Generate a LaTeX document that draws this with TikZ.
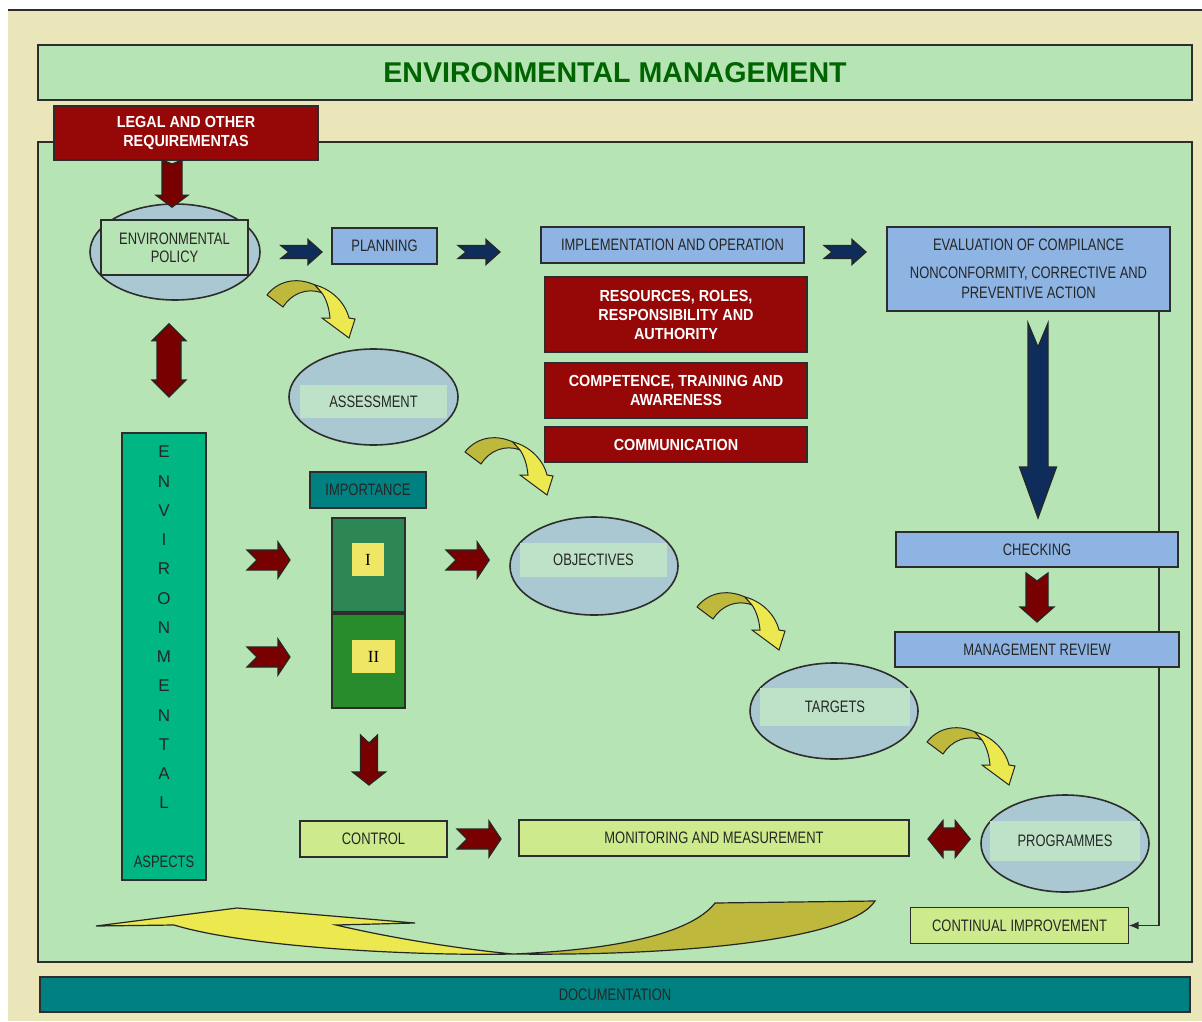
\documentclass[tikz,border=0pt]{standalone}
\usepackage{fontspec}
\setmainfont{Liberation Sans}
\newfontfamily\lblf{Liberation Sans}[FakeStretch=0.78]
\newfontfamily\wbf{Liberation Sans}[FakeStretch=0.9]
\newfontfamily\serf{Liberation Serif}
\usetikzlibrary{shapes.geometric,calc,arrows.meta}

\definecolor{beige}{RGB}{234,230,186}
\definecolor{lgreen}{RGB}{182,228,180}
\definecolor{bline}{RGB}{45,45,45}
\definecolor{dred}{RGB}{150,8,8}
\definecolor{redA}{RGB}{120,0,0}
\definecolor{navy}{RGB}{15,45,90}
\definecolor{lblue}{RGB}{141,180,226}
\definecolor{ellf}{RGB}{170,200,210}
\definecolor{bandc}{RGB}{190,226,200}
\definecolor{aspc}{RGB}{0,182,130}
\definecolor{tealc}{RGB}{0,128,128}
\definecolor{grI}{RGB}{45,135,85}
\definecolor{grII}{RGB}{40,140,45}
\definecolor{yelsq}{RGB}{238,230,100}
\definecolor{limec}{RGB}{205,235,140}
\definecolor{yel}{RGB}{235,232,80}
\definecolor{olv}{RGB}{190,185,60}
\definecolor{tgreen}{RGB}{0,100,0}

% fat arrows: #1 fill, #2 start, #3 end, #4 half shaft, #5 half head, #6 head length, #7 notch (px)
\newcommand\fatR[7]{%
  \path[fatline,fill=#1] let \p1=#2, \p2=#3 in
   (\x1,\y1+#4*0.5pt) -- (\x2-#6*0.5pt,\y1+#4*0.5pt) -- (\x2-#6*0.5pt,\y1+#5*0.5pt) -- (\x2,\y1)
   -- (\x2-#6*0.5pt,\y1-#5*0.5pt) -- (\x2-#6*0.5pt,\y1-#4*0.5pt) -- (\x1,\y1-#4*0.5pt)
   -- (\x1+#7*0.5pt,\y1) -- cycle;}
\newcommand\fatD[7]{%
  \path[fatline,fill=#1] let \p1=#2, \p2=#3 in
   (\x1-#4*0.5pt,\y1) -- (\x1-#4*0.5pt,\y2+#6*0.5pt) -- (\x1-#5*0.5pt,\y2+#6*0.5pt) -- (\x1,\y2)
   -- (\x1+#5*0.5pt,\y2+#6*0.5pt) -- (\x1+#4*0.5pt,\y2+#6*0.5pt) -- (\x1+#4*0.5pt,\y1)
   -- (\x1,\y1-#7*0.5pt) -- cycle;}
\newcommand\dblV[6]{%
  \path[fatline,fill=#1] let \p1=#2, \p2=#3 in
   (\x1,\y1) -- (\x1+#5*0.5pt,\y1-#6*0.5pt) -- (\x1+#4*0.5pt,\y1-#6*0.5pt) -- (\x1+#4*0.5pt,\y2+#6*0.5pt)
   -- (\x1+#5*0.5pt,\y2+#6*0.5pt) -- (\x1,\y2) -- (\x1-#5*0.5pt,\y2+#6*0.5pt) -- (\x1-#4*0.5pt,\y2+#6*0.5pt)
   -- (\x1-#4*0.5pt,\y1-#6*0.5pt) -- (\x1-#5*0.5pt,\y1-#6*0.5pt) -- cycle;}
\newcommand\dblH[6]{%
  \path[fatline,fill=#1] let \p1=#2, \p2=#3 in
   (\x1,\y1) -- (\x1+#6*0.5pt,\y1+#5*0.5pt) -- (\x1+#6*0.5pt,\y1+#4*0.5pt) -- (\x2-#6*0.5pt,\y1+#4*0.5pt)
   -- (\x2-#6*0.5pt,\y1+#5*0.5pt) -- (\x2,\y1) -- (\x2-#6*0.5pt,\y1-#5*0.5pt) -- (\x2-#6*0.5pt,\y1-#4*0.5pt)
   -- (\x1+#6*0.5pt,\y1-#4*0.5pt) -- (\x1+#6*0.5pt,\y1-#5*0.5pt) -- cycle;}

\tikzset{
  fatline/.style={draw=black!85, line width=0.6pt},
  sz/.style 2 args={minimum width=#1*0.5pt, minimum height=#2*0.5pt},
  box/.style={rectangle, draw=bline, line width=0.8pt, inner sep=0pt, outer sep=0pt, align=center},
  lbl/.style={font=\lblf\fontsize{8.3}{9}\selectfont, text=black!85},
  wlbl/.style={font=\wbf\bfseries\fontsize{8}{9.5}\selectfont, text=white},
  ell/.style={ellipse, draw=bline, line width=0.8pt, fill=ellf, inner sep=0pt},
  band/.style={rectangle, fill=bandc, inner sep=0pt},
  sqbox/.style={rectangle, fill=yelsq, inner sep=0pt, font=\serf\fontsize{8.5}{9}\selectfont},
  lettr/.style={font=\fontsize{8.5}{9}\selectfont, text=black!85, inner sep=0pt},
  curvearr/.pic={
    \path[draw=black!85, line width=0.5pt, fill=olv]
      (2,17) .. controls (12,4) and (30,-2) .. (50,7) -- (57,15)
      .. controls (42,9) and (26,16) .. (18,29) -- cycle;
    \path[draw=black!85, line width=0.5pt, fill=yel]
      (50,7) .. controls (66,11) and (80,24) .. (84,40) -- (90,41) -- (84,60) -- (57,40) -- (65,40)
      .. controls (64,29) and (61,21) .. (57,15) -- cycle;
  }
}

\begin{document}
\begin{tikzpicture}[x=0.5pt,y=-0.5pt]
\useasboundingbox (0,0) rectangle (1202,1021);
\fill[white] (0,0) rectangle (1202,1021);
\fill[beige] (8,10) rectangle (1202,1021);
\draw[bline, line width=1pt] (8,10) -- (1202,10);

% frames
\node[box, sz={1154}{55}, fill=lgreen, text=tgreen, font=\bfseries\fontsize{14.3}{16}\selectfont] (title) at (615,72.5) {ENVIRONMENTAL MANAGEMENT};
\node[box, sz={1154}{820}, fill=lgreen] (main) at (615,552) {};
\node[box, sz={264}{54}, fill=dred, wlbl] (legal) at (186,133) {LEGAL AND OTHER\\REQUIREMENTAS};

% policy
\node[ell, sz={170}{96}] (policyE) at (175,252) {};
\node[box, sz={147}{55}, fill=lgreen, lbl] (policy) at (174.5,247.5) {ENVIRONMENTAL\\POLICY};

% top row
\node[box, sz={105}{36}, fill=lblue, lbl] (planning) at (384.5,246) {PLANNING};
\node[box, sz={263}{36}, fill=lblue, lbl] (impl) at (672.5,245) {IMPLEMENTATION AND OPERATION};
\node[box, sz={283}{84}, fill=lblue, lbl, font=\lblf\fontsize{8.3}{10}\selectfont] (eval) at (1028.5,269) {EVALUATION OF COMPILANCE\\[4pt]NONCONFORMITY, CORRECTIVE AND\\PREVENTIVE ACTION};

\node[box, sz={262}{75}, fill=dred, wlbl] (res) at (676,314.5) {RESOURCES, ROLES,\\RESPONSIBILITY AND\\AUTHORITY};
\node[box, sz={262}{55}, fill=dred, wlbl] (comp) at (676,390.5) {COMPETENCE, TRAINING AND\\AWARENESS};
\node[box, sz={262}{35}, fill=dred, wlbl] (comm) at (676,444.5) {COMMUNICATION};

% assessment
\node[ell, sz={169}{96}] (assessE) at (373.5,397) {};
\node[band, sz={147}{33}, lbl] (assess) at (373.5,401.5) {ASSESSMENT};

% aspects
\node[box, sz={84}{447}, fill=aspc] (aspects) at (164,656.5) {};
\foreach \l [count=\i from 0] in {E,N,V,I,R,O,N,M,E,N,T,A,L}
  \node[lettr] (L\i) at (164,452+29.25*\i) {\l};
\node[lbl, inner sep=0pt] (asptxt) at (164,862) {ASPECTS};

% importance
\node[box, sz={116}{36}, fill=tealc, lbl] (importance) at (368,490) {IMPORTANCE};
\node[box, sz={73}{94}, fill=grI] (boxI) at (368.5,565) {};
\node[box, sz={73}{94}, fill=grII] (boxII) at (368.5,661) {};
\node[sqbox, sz={32}{33}] (sqI) at (368,559.5) {I};
\node[sqbox, sz={43}{33}] (sqII) at (373.5,656.5) {II};

% objectives, targets, programmes
\node[ell, sz={168}{98}] (objE) at (594,566) {};
\node[band, sz={147}{34}, lbl] (obj) at (593.5,560) {OBJECTIVES};
\node[ell, sz={168}{96}] (targE) at (834,711) {};
\node[band, sz={150}{38}, lbl] (targ) at (835,707) {TARGETS};
\node[ell, sz={168}{97}] (progE) at (1065,843.5) {};
\node[band, sz={150}{40}, lbl] (prog) at (1065,841) {PROGRAMMES};

% bottom row
\node[box, sz={147}{36}, fill=limec, lbl] (control) at (373.5,839) {CONTROL};
\node[box, sz={390}{36}, fill=limec, lbl] (monit) at (714,838) {MONITORING AND MEASUREMENT};
\node[box, sz={218}{36}, fill=limec, lbl] (contimp) at (1019.5,925.5) {CONTINUAL IMPROVEMENT};

% feedback line
\draw[bline, line width=0.8pt, -{Latex[length=5pt,width=4pt]}] ($(eval.south east)+(-11,0)$) |- (contimp.east);

\node[box, sz={282}{35}, fill=lblue, lbl] (check) at (1037,549.5) {CHECKING};
\node[box, sz={284}{35}, fill=lblue, lbl] (mgmt) at (1037,649.5) {MANAGEMENT REVIEW};

\node[box, sz={1150}{35}, fill=tealc, lbl] (doc) at (615,994.5) {DOCUMENTATION};

% fat arrows
\fatD{redA}{($(legal.south)+(-14,0)$)}{($(policyE.north)+(0,4)$)}{10}{16}{12}{4}
\dblV{redA}{($(policyE.south)+(-6,23)$)}{($(aspects.north)+(5,-36)$)}{12}{17}{17}
\fatR{navy}{($(policyE.east)+(20,0)$)}{($(planning.west)+(-10,0)$)}{6.5}{12.5}{14}{8}
\fatR{navy}{($(planning.east)+(21,6)$)}{($(impl.west)+(-41,0)$)}{6.5}{12.5}{14}{8}
\fatR{navy}{($(impl.east)+(20,7)$)}{($(eval.west)+(-21,0)$)}{6.5}{12.5}{14}{8}
\fatD{navy}{($(eval.south)+(9.5,12)$)}{($(check.north)+(0,-14)$)}{10}{18.5}{51}{24}
\fatD{redA}{($(check.south)+(0,6)$)}{($(mgmt.north)+(0,-10)$)}{11}{17}{15}{8}
\fatR{redA}{($(aspects.east |- boxI.west)+(41,-5)$)}{($(boxI.west)+(-42,0)$)}{10}{18}{12}{10}
\fatR{redA}{($(aspects.east |- boxII.west)+(41,-4)$)}{($(boxII.west)+(-42,0)$)}{10}{18}{12}{10}
\fatR{redA}{($(boxI.east)+(41,-5)$)}{($(objE.west)+(-20,0)$)}{10}{18}{12}{10}
\fatD{redA}{($(boxII.south)+(0.5,27)$)}{($(control.north)+(0,-36)$)}{8.5}{16.5}{13}{8}
\fatR{redA}{($(control.east)+(10,0)$)}{($(monit.west)+(-18,0)$)}{10}{18}{12}{10}
\dblH{redA}{($(monit.east)+(19,1)$)}{($(progE.west)+(-10,0)$)}{11}{18.5}{15}

% curved yellow arrows
\pic at (265,278) {curvearr};
\pic at (463,435) {curvearr};
\pic at (695,590) {curvearr};
\pic at (925,725) {curvearr};

% big bottom swoosh
\path[draw=black!85, line width=0.6pt, fill=yel]
  (96,926) -- (237,908) -- (415,923) -- (336,925)
  .. controls (400,940) and (470,950) .. (513,954)
  .. controls (420,956) and (250,948) .. (174,925) -- cycle;
\path[draw=black!85, line width=0.6pt, fill=olv]
  (513,954) .. controls (610,950) and (690,935) .. (715,903) -- (875,901)
  .. controls (850,940) and (680,956) .. (513,954) -- cycle;
\end{tikzpicture}
\end{document}
